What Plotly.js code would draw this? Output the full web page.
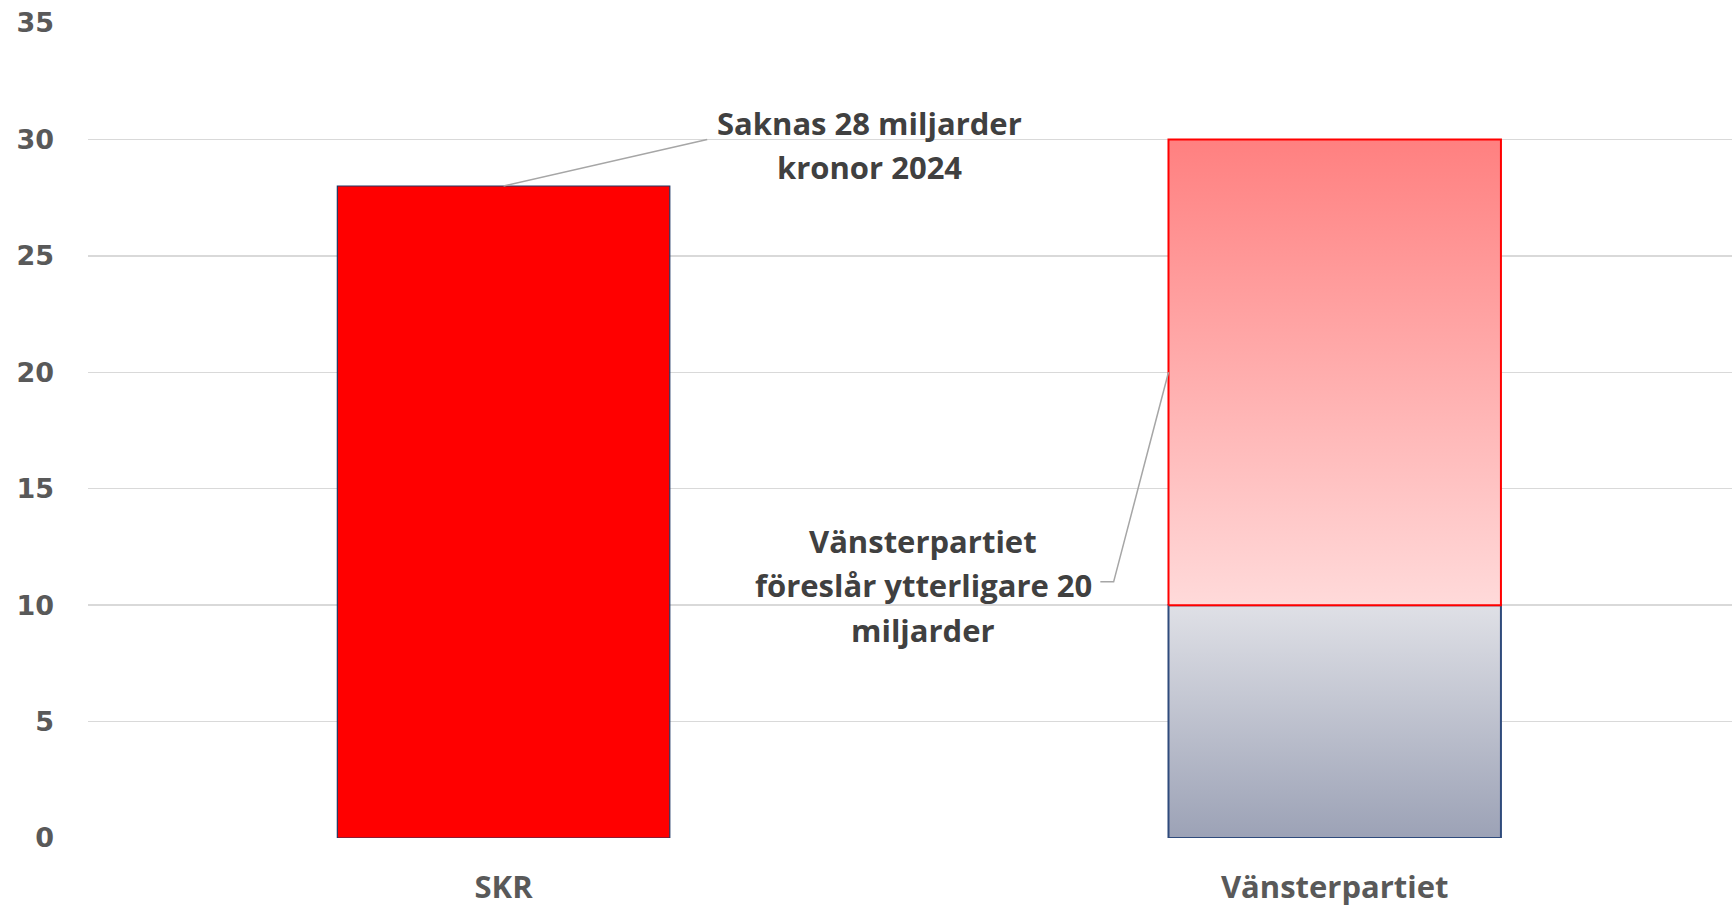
<!DOCTYPE html>
<html>
<head>
<meta charset="utf-8">
<script src="https://cdn.plot.ly/plotly-3.0.1.min.js"></script>
<style>
  html, body { margin: 0; padding: 0; background: #ffffff; }
  #chart { width: 1732px; height: 906px; }
</style>
</head>
<body>
<div id="chart"></div>
<script>
// ---- data ----
const categories = ['SKR', 'Vänsterpartiet'];
const skrMissing = [28];          // SKR: saknas 28 miljarder
const vpBase = [10];              // Vänsterpartiet: nuvarande
const vpExtra = [20];             // Vänsterpartiet: ytterligare 20 miljarder
const yTicks = [0, 5, 10, 15, 20, 25, 30, 35];
const noteSkrLines = ['Saknas 28 miljarder', 'kronor 2024'];
const noteVpLines = ['Vänsterpartiet', 'föreslår ytterligare 20', 'miljarder'];

// ---- styling ----
const barWidth = 0.4;
const textGrey = '#595959';
const noteGrey = '#404040';
const leaderGrey = '#A6A6A6';
const noteFont = { family: 'Open Sans', size: 31, weight: 700, color: noteGrey };
const lineGap = 44.6;

const skrX = 0, vpX = 1;

function rectPoly(xc, y0, y1) {
  const a = xc - barWidth / 2, b = xc + barWidth / 2;
  return { x: [a, b, b, a, a], y: [y0, y0, y1, y1, y0] };
}

const traces = [];

// SKR bar
traces.push({
  type: 'bar',
  x: [skrX],
  y: skrMissing,
  width: barWidth,
  marker: { color: '#FF0000', line: { color: '#203864', width: 1.2 } },
  hoverinfo: 'y',
  showlegend: false
});

// Vänsterpartiet base segment (grey gradient)
const pBase = rectPoly(vpX, 0, vpBase[0]);
traces.push({
  type: 'scatter', mode: 'lines',
  x: pBase.x, y: pBase.y,
  fill: 'toself',
  fillgradient: { type: 'vertical', start: 0, stop: vpBase[0],
    colorscale: [[0, '#9CA2B6'], [1, '#DFE0E6']] },
  line: { color: '#2F4B7C', width: 2 },
  hoverinfo: 'skip', showlegend: false
});

// Vänsterpartiet extra segment (red gradient)
const pExtra = rectPoly(vpX, vpBase[0], vpBase[0] + vpExtra[0]);
traces.push({
  type: 'scatter', mode: 'lines',
  x: pExtra.x, y: pExtra.y,
  fill: 'toself',
  fillgradient: { type: 'vertical', start: vpBase[0], stop: vpBase[0] + vpExtra[0],
    colorscale: [[0, '#FFDADA'], [1, '#FF8080']] },
  line: { color: '#FF0000', width: 2 },
  hoverinfo: 'skip', showlegend: false
});

function noteLines(lines, x, y) {
  const n = lines.length;
  return lines.map((t, i) => ({
    xref: 'x', yref: 'y', x: x, y: y, text: t, showarrow: false,
    xanchor: 'center', yanchor: 'middle',
    yshift: -(i - (n - 1) / 2) * lineGap,
    font: noteFont
  }));
}

const vpMid = vpBase[0] + vpExtra[0] / 2;
const layout = {
  width: 1732, height: 906,
  margin: { l: 88, r: 0, t: 23, b: 67.5, pad: 0 },
  paper_bgcolor: '#ffffff', plot_bgcolor: '#ffffff',
  showlegend: false,
  xaxis: {
    type: 'linear',
    range: [-0.5, 1.478],
    tickvals: [skrX, vpX], ticktext: categories,
    showgrid: false, zeroline: false, showline: false, ticks: '',
    ticklabelstandoff: 28,
    tickfont: { family: 'Open Sans', size: 31, weight: 700, color: textGrey }
  },
  yaxis: {
    range: [0, 35],
    tickvals: yTicks,
    showgrid: true, gridcolor: '#D9D9D9', gridwidth: 1.5,
    zeroline: false, showline: false, ticks: '',
    ticklabelstandoff: 33,
    tickfont: { family: 'DejaVu Sans', size: 27, weight: 700, color: textGrey }
  },
  shapes: [
    { type: 'line', xref: 'x', yref: 'y', x0: skrX, y0: skrMissing[0], x1: 0.245, y1: 30.0,
      line: { color: leaderGrey, width: 1.5 } },
    { type: 'path', xref: 'x', yref: 'y',
      path: `M ${vpX - barWidth / 2} ${vpMid} L 0.734 11.0 L 0.718 11.0`,
      line: { color: leaderGrey, width: 1.5 } }
  ],
  annotations: [].concat(
    noteLines(noteSkrLines, 0.44, 29.76),
    noteLines(noteVpLines, 0.505, 10.86)
  )
};

Plotly.newPlot('chart', traces, layout, { displayModeBar: false, staticPlot: true });
</script>
</body>
</html>
